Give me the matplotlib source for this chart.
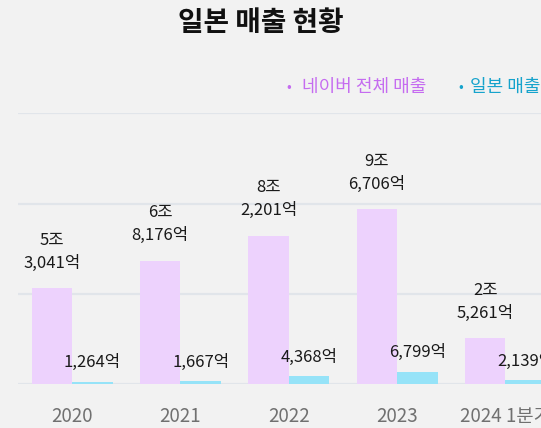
import matplotlib.pyplot as plt
import numpy as np

plt.rcParams['font.family'] = ['Noto Sans CJK KR', 'DejaVu Sans']

# data (unit: 억원)
years = ['2020', '2021', '2022', '2023', '2024 1분기']
total = [53041, 68176, 82201, 96706, 25261]
japan = [1264, 1667, 4368, 6799, 2139]

def fmt_won(v):
    jo, eok = divmod(v, 10000)
    if jo:
        return f'{jo}조\n{eok:,}억'
    return f'{eok:,}억'

bg = '#F2F2F2'
purple = '#EDD2FD'
cyan = '#96E3F8'

fig = plt.figure(figsize=(5.41, 4.28), dpi=100, facecolor=bg)
# chart is cropped on the right in the original, so the axes run past the figure edge
ax = fig.add_axes([0.0333, 0.1028, 1.001, 0.6325], facecolor=bg)

x = np.arange(len(years))
w = 0.374
b1 = ax.bar(x - w/2, total, w, color=purple, zorder=2)
b2 = ax.bar(x + w/2, japan, w, color=cyan, zorder=2)

for rect, v in zip(b1, total):
    ax.annotate(fmt_won(v), (rect.get_x() + rect.get_width()/2, rect.get_height()),
                xytext=(0, 12), textcoords='offset points', ha='center', va='bottom',
                fontsize=12, color='#1a1a1a', linespacing=1.45)
for rect, v in zip(b2, japan):
    ax.annotate(fmt_won(v), (rect.get_x() + rect.get_width()/2, rect.get_height()),
                xytext=(0, 7.5), textcoords='offset points', ha='center', va='bottom',
                fontsize=12, color='#1a1a1a')

ax.set_xlim(-0.5, len(years) - 0.5)
ax.set_ylim(0, 150000)
ax.set_yticks([0, 50000, 100000, 150000])
ax.yaxis.grid(True, color='#E1E5EA', linewidth=1.6, zorder=0)
ax.tick_params(axis='y', left=False, labelleft=False)
ax.set_xticks(x)
ax.set_xticklabels(years, fontsize=13.5, color='#707070')
ax.tick_params(axis='x', length=0, pad=16)
for s in ax.spines.values():
    s.set_visible(False)

fig.text(0.4824, 0.9474, '일본 매출 현황', ha='center', va='center',
         fontsize=20, fontweight='bold', color='#111111')

fig.text(0.534, 0.797, '•', ha='center', va='center', fontsize=10, color='#C56CF0')
fig.text(0.558, 0.797, '네이버 전체 매출', ha='left', va='center', fontsize=13, color='#C56CF0')
fig.text(0.852, 0.797, '•', ha='center', va='center', fontsize=10, color='#16A3CC')
fig.text(0.869, 0.797, '일본 매출', ha='left', va='center', fontsize=13, color='#16A3CC')

fig.savefig('out.png', dpi=100, facecolor=bg)
